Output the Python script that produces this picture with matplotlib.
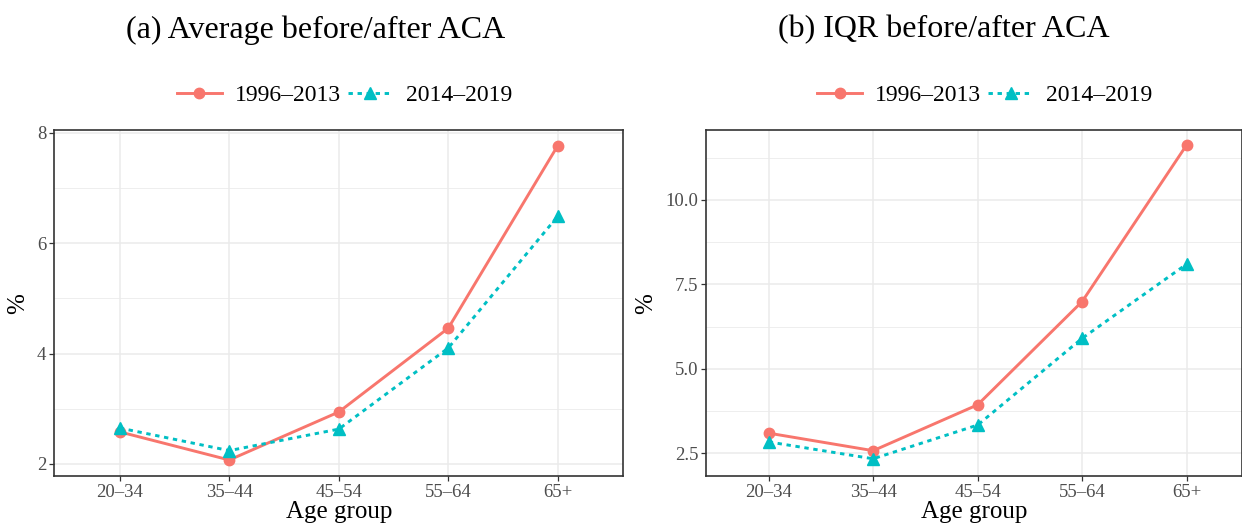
import numpy as np
import matplotlib.pyplot as plt
import matplotlib
from matplotlib.ticker import FixedLocator

matplotlib.rcParams['font.family'] = ['Liberation Serif', 'DejaVu Serif']

age_groups = ['20–34', '35–44', '45–54', '55–64', '65+']
series_names = ['1996–2013', '2014–2019']

# (a) average
avg_before = [2.58, 2.07, 2.94, 4.46, 7.77]
avg_after = [2.65, 2.24, 2.63, 4.10, 6.49]

# (b) IQR
iqr_before = [3.09, 2.57, 3.93, 6.99, 11.63]
iqr_after = [2.83, 2.33, 3.33, 5.90, 8.10]

red = '#F8766D'
cyan = '#00BFC4'

fig = plt.figure(figsize=(12.42, 5.28), dpi=100)
ax1 = fig.add_axes([0.0435, 0.0985, 0.4585, 0.655])
ax2 = fig.add_axes([0.5684, 0.0985, 0.4316, 0.655])

x = np.arange(1, len(age_groups) + 1)


def yticks_fmt(ticks):
    if all(float(t).is_integer() for t in ticks):
        return [str(int(t)) for t in ticks]
    return ['%.1f' % t for t in ticks]


def draw(ax, before, after, yticks, yminor, ylim, xlim, legend_x):
    ax.plot(x, before, color=red, lw=2.1, marker='o', ms=7.5, label=series_names[0], zorder=3)
    ax.plot(x, after, color=cyan, lw=2.1, ls=(0, (1.5, 1.6)), marker='^', ms=8.5,
            label=series_names[1], zorder=3)
    ax.set_xticks(x)
    ax.set_xticklabels(age_groups)
    ax.set_xlim(*xlim)
    ax.set_ylim(*ylim)
    ax.yaxis.set_major_locator(FixedLocator(yticks))
    ax.yaxis.set_minor_locator(FixedLocator(yminor))
    ax.set_yticklabels(yticks_fmt(yticks))
    ax.grid(True, which='major', color='#EBEBEB', lw=1.1, zorder=0)
    ax.grid(True, which='minor', axis='y', color='#EBEBEB', lw=0.6, zorder=0)
    ax.set_axisbelow(True)
    ax.tick_params(axis='both', which='major', labelsize=13.5, labelcolor='#4D4D4D',
                   color='#333333', length=3.5, width=0.9, pad=2)
    ax.tick_params(axis='y', which='minor', length=0)
    for s in ax.spines.values():
        s.set_color('#333333')
        s.set_linewidth(1.2)
    ax.set_xlabel('Age group', fontsize=18, labelpad=0)
    ax.set_ylabel('%', fontsize=18, labelpad=6)
    ax.legend(loc='center', bbox_to_anchor=(legend_x, 1.10), ncol=2, frameon=False,
              fontsize=17, handlelength=1.9, columnspacing=0.3, handletextpad=0.55)


draw(ax1, avg_before, avg_after,
     [2, 4, 6, 8], [3, 5, 7], (1.78, 8.05), (0.4, 5.6), 0.51)
draw(ax2, iqr_before, iqr_after,
     [2.5, 5.0, 7.5, 10.0], [3.75, 6.25, 8.75, 11.25], (1.82, 12.07), (0.4, 5.53), 0.52)

fig.text(316 / 1242, 1 - 30 / 528, '(a) Average before/after ACA', fontsize=23,
         ha='center', va='center')
fig.text(944 / 1242, 1 - 30 / 528, '(b) IQR before/after ACA', fontsize=23,
         ha='center', va='center')

fig.savefig('out.png', dpi=100)
